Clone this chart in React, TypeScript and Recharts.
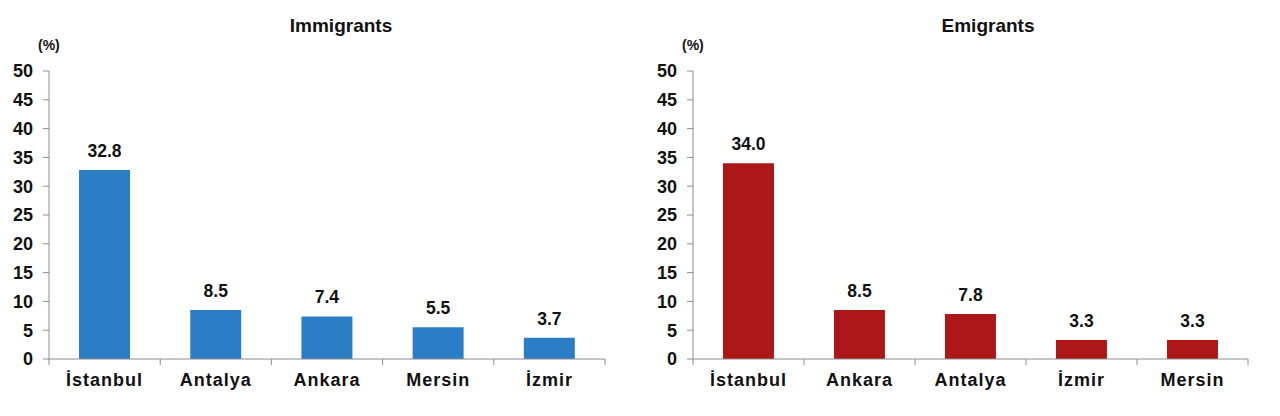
import { Bar, BarChart, LabelList, XAxis, YAxis } from "recharts";

const immigrantCities = ["İstanbul", "Antalya", "Ankara", "Mersin", "İzmir"];
const immigrantShares = [32.8, 8.5, 7.4, 5.5, 3.7];

const emigrantCities = ["İstanbul", "Ankara", "Antalya", "İzmir", "Mersin"];
const emigrantShares = [34.0, 8.5, 7.8, 3.3, 3.3];

const yTicks = [0, 5, 10, 15, 20, 25, 30, 35, 40, 45, 50];

const FONT = "'Liberation Sans', Arial, sans-serif";
const AXIS = "#8c8c8c";
const CHART_W = 640;
const CHART_H = 416;

function CityTick(props: any) {
  const { x, y, payload, index, band } = props;
  return (
    <g>
      <line x1={x - band / 2} x2={x - band / 2} y1={y - 8} y2={y - 2} stroke={AXIS} />
      {index === 4 && <line x1={x + band / 2} x2={x + band / 2} y1={y - 8} y2={y - 2} stroke={AXIS} />}
      <text x={x} y={y + 19} textAnchor="middle" fontFamily={FONT} fontWeight="bold" fontSize={18} letterSpacing={1} fill="#111">
        {payload.value}
      </text>
    </g>
  );
}

function Panel({ title, cities, shares, color, left, right, titleX }: { title: string; cities: string[]; shares: number[]; color: string; left: number; right: number; titleX: number }) {
  const data = cities.map((city, i) => ({ city, value: shares[i] }));
  const band = (CHART_W - left - right) / cities.length;
  return (
    <div style={{ position: "relative", width: CHART_W, height: CHART_H }}>
      <div style={{ position: "absolute", top: 15, left: titleX - 150, width: 300, textAlign: "center", fontFamily: FONT, fontWeight: "bold", fontSize: 19, color: "#111" }}>
        {title}
      </div>
      <div style={{ position: "absolute", top: 37, left: left - 11, fontFamily: FONT, fontWeight: "bold", fontSize: 14, color: "#111" }}>(%)</div>
      <BarChart width={CHART_W} height={CHART_H} data={data} margin={{ top: 71, right, bottom: 0, left: 0 }} barCategoryGap="27%">
        <XAxis
          dataKey="city"
          stroke={AXIS}
          tickLine={false}
          height={57}
          interval={0}
          tick={<CityTick band={band} />}
        />
        <YAxis
          domain={[0, 50]}
          ticks={yTicks}
          width={left}
          stroke={AXIS}
          tickSize={6}
          tickMargin={10}
          tick={{ fontFamily: FONT, fontWeight: "bold", fontSize: 18, fill: "#111" }}
        />
        <Bar dataKey="value" fill={color} isAnimationActive={false}>
          <LabelList
            dataKey="value"
            position="top"
            offset={13}
            formatter={(v: any) => Number(v).toFixed(1)}
            style={{ fontFamily: FONT, fontWeight: "bold", fontSize: 17.5, fill: "#111" }}
          />
        </Bar>
      </BarChart>
    </div>
  );
}

export default function App() {
  return (
    <div style={{ position: "absolute", top: 0, left: 0, width: 1280, height: 416, background: "#fff", display: "flex" }}>
      <Panel title="Immigrants" cities={immigrantCities} shares={immigrantShares} color="#2b7dc5" left={49} right={35} titleX={341} />
      <Panel title="Emigrants" cities={emigrantCities} shares={emigrantShares} color="#ae1717" left={53} right={32} titleX={348} />
    </div>
  );
}
